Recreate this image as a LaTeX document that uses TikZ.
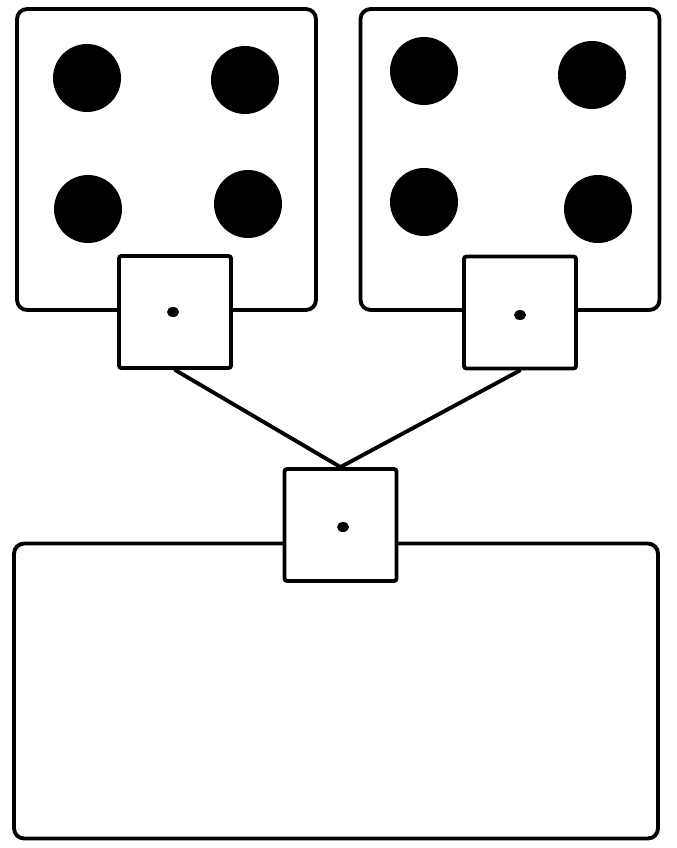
\documentclass[tikz,border=0pt]{standalone}
\usetikzlibrary{positioning}
\definecolor{dieInk}{RGB}{0,0,0}
\tikzset{
    base/.style={draw=dieInk, line width=2.2pt, inner sep=0pt},
    face/.style={base, rectangle, rounded corners=2mm, fill=white,
                 minimum width=5.98cm, minimum height=6.02cm},
    tray/.style={base, rectangle, rounded corners=2mm, fill=white,
                 minimum width=12.88cm, minimum height=5.9cm},
    port/.style={base, rectangle, rounded corners=0.5mm, fill=white, minimum size=2.24cm},
    link/.style={draw=dieInk, line width=2.2pt, line cap=round}
}
\begin{document}
\begin{tikzpicture}[x=0.02cm, y=-0.02cm]
  \useasboundingbox (0,0) rectangle (676,848);

  % two dice faces and the tray
  \node[face] (lface) at (166.5,159.5) {};
  \node[face] (rface) at (510,159.5) {};
  \node[tray] (tray) at (336,691) {};

  % pips
  \foreach \px/\py in {87/78, 245/80, 88/209, 248/204, 424/71, 592/75, 424/202, 598/209} {
    \fill[dieInk] (\px,\py) circle (0.68cm);
  }

  % ports
  \node[port] (lport) at (175,312) {};
  \node[port] (rport) at (520,312.5) {};
  \node[port] (mport) at (340.5,525) {};
  \fill[dieInk] (173,312) ellipse (0.12cm and 0.1cm);
  \fill[dieInk] (520,315) ellipse (0.12cm and 0.1cm);
  \fill[dieInk] (343,527) ellipse (0.12cm and 0.1cm);

  % links
  \draw[link] (lport.south) -- (mport.north);
  \draw[link] (rport.south) -- (mport.north);
\end{tikzpicture}
\end{document}
